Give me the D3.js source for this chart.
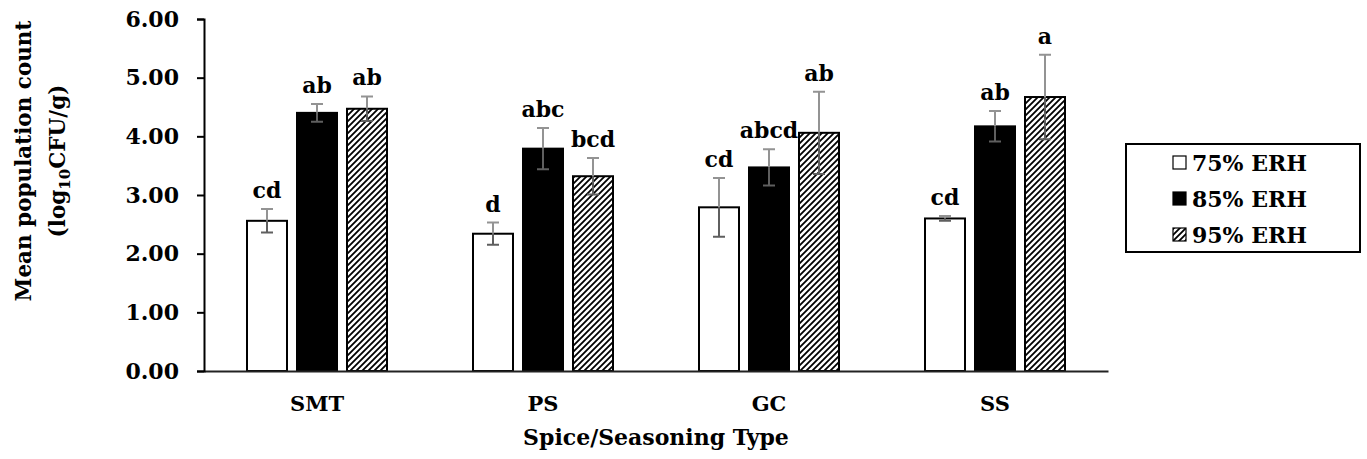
<!DOCTYPE html>
<html>
<head>
<meta charset="utf-8">
<script src="https://cdn.jsdelivr.net/npm/d3@7"></script>
<style>
  body { margin: 0; background: #fff; }
  svg text { font-family: "DejaVu Serif", serif; font-weight: bold; fill: #000; }
</style>
</head>
<body>
<div id="chart_area"></div>
<script>
// data
var categories = ["SMT", "PS", "GC", "SS"];
var seriesNames = ["75% ERH", "85% ERH", "95% ERH"];
var erh75 = [2.56, 2.34, 2.79, 2.60];
var erh85 = [4.40, 3.79, 3.47, 4.17];
var erh95 = [4.47, 3.32, 4.06, 4.67];
var err75 = [0.20, 0.19, 0.50, 0.04];
var err85 = [0.15, 0.35, 0.31, 0.26];
var err95 = [0.21, 0.31, 0.70, 0.72];
var letters75 = ["cd", "d", "cd", "cd"];
var letters85 = ["ab", "abc", "abcd", "ab"];
var letters95 = ["ab", "bcd", "ab", "a"];
var yTicks = [0, 1, 2, 3, 4, 5, 6];

var fills = ["#fff", "#000", "url(#hatch)"];
var values = [erh75, erh85, erh95];
var errors = [err75, err85, err95];
var letters = [letters75, letters85, letters95];

var W = 1367, H = 459;
var margin = {left: 204, top: 19, right: 259, bottom: 88};
var width = W - margin.left - margin.right,
    height = H - margin.top - margin.bottom;

var svg = d3.select("#chart_area")
    .append("svg")
        .attr("width", W)
        .attr("height", H);

// hatch pattern (upward diagonal)
var pat = svg.append("defs").append("pattern")
    .attr("id", "hatch")
    .attr("patternUnits", "userSpaceOnUse")
    .attr("width", 6)
    .attr("height", 6);
pat.append("rect").attr("width", 6).attr("height", 6).attr("fill", "#fff");
pat.append("path")
    .attr("d", "M0,6 L6,0 M-1.5,1.5 L1.5,-1.5 M4.5,7.5 L7.5,4.5")
    .attr("stroke", "#000")
    .attr("stroke-width", 1.8);

var g = svg.append("g")
    .attr("transform", "translate(" + margin.left + "," + margin.top + ")");

var rows = [];
categories.forEach(function(c, i){
    seriesNames.forEach(function(s, j){
        rows.push({cat: c, s: j, v: values[j][i], e: errors[j][i], lab: letters[j][i]});
    });
});

//scales
var x0 = d3.scaleBand().domain(categories).range([0, width]);
var x1 = d3.scaleBand().domain(d3.range(3)).range([0, x0.bandwidth()])
    .paddingInner(0.2).paddingOuter(0.86);
var y = d3.scaleLinear().domain([0, 6]).range([height, 0]);

//bars
g.selectAll("rect.bar")
    .data(rows)
    .enter().append("rect")
        .attr("class", "bar")
        .attr("x", function(d){ return x0(d.cat) + x1(d.s); })
        .attr("y", function(d){ return y(d.v); })
        .attr("width", x1.bandwidth())
        .attr("height", function(d){ return height - y(d.v); })
        .attr("fill", function(d){ return fills[d.s]; })
        .attr("stroke", "#000")
        .attr("stroke-width", 2);

//error bars
var eb = g.selectAll("g.err")
    .data(rows)
    .enter().append("g")
        .attr("class", "err")
        .attr("transform", function(d){
            return "translate(" + (x0(d.cat) + x1(d.s) + x1.bandwidth() / 2) + ",0)";
        });
eb.append("path")
    .attr("d", function(d){
        return "M0," + y(d.v) + "V" + y(d.v + d.e) + "M-6," + y(d.v + d.e) + "H6";
    })
    .attr("stroke", "#939393")
    .attr("stroke-width", 2)
    .attr("fill", "none");
eb.append("path")
    .attr("d", function(d){
        return "M0," + y(d.v) + "V" + y(d.v - d.e) + "M-6," + y(d.v - d.e) + "H6";
    })
    .attr("stroke", "#5f5f5f")
    .attr("stroke-width", 2)
    .attr("fill", "none");

//significance letters
g.selectAll("text.lab")
    .data(rows)
    .enter().append("text")
        .attr("class", "lab")
        .attr("x", function(d){ return x0(d.cat) + x1(d.s) + x1.bandwidth() / 2; })
        .attr("y", function(d){ return y(d.v + d.e) - 11; })
        .attr("text-anchor", "middle")
        .attr("font-size", "22px")
        .text(function(d){ return d.lab; });

//x axis
var xAxis = g.append("g")
    .attr("transform", "translate(0," + height + ")")
    .call(d3.axisBottom(x0).tickSize(0).tickPadding(25));
xAxis.select(".domain").attr("stroke", "#222").attr("stroke-width", 2);
xAxis.selectAll("text")
    .attr("font-size", "21px")
    .attr("font-family", "DejaVu Serif")
    .attr("font-weight", "bold");

//y axis
var yAxis = g.append("g")
    .call(d3.axisLeft(y).tickValues(yTicks).tickSize(7).tickSizeOuter(7).tickPadding(18)
        .tickFormat(d3.format(".2f")));
yAxis.select(".domain").attr("stroke", "#000").attr("stroke-width", 2);
yAxis.selectAll(".tick line").attr("stroke", "#000").attr("stroke-width", 2);
yAxis.selectAll("text")
    .attr("font-size", "22px")
    .attr("font-family", "DejaVu Serif")
    .attr("font-weight", "bold");

//x label
svg.append("text")
    .attr("x", margin.left + width / 2)
    .attr("y", 445)
    .attr("text-anchor", "middle")
    .attr("font-size", "22px")
    .text("Spice/Seasoning Type");

//y label
var yl = svg.append("text")
    .attr("transform", "translate(31," + 161 + ") rotate(-90)")
    .attr("text-anchor", "middle")
    .attr("font-size", "21.5px");
yl.append("tspan").attr("x", 0).attr("y", 0).text("Mean population count");
yl.append("tspan").attr("x", 0).attr("y", 34).text("(log");
yl.append("tspan").attr("dy", 5).attr("font-size", "15px").text("10");
yl.append("tspan").attr("dy", -5).text("CFU/g)");

//legend
var lg = svg.append("g").attr("transform", "translate(1126,144)");
lg.append("rect")
    .attr("width", 234).attr("height", 108)
    .attr("fill", "#fff").attr("stroke", "#000").attr("stroke-width", 2);
var li = lg.selectAll("g.li")
    .data(seriesNames)
    .enter().append("g")
        .attr("class", "li")
        .attr("transform", function(d, i){ return "translate(47," + (19 + i * 36) + ")"; });
li.append("rect")
    .attr("x", 0).attr("y", -7).attr("width", 13).attr("height", 13)
    .attr("fill", function(d, i){ return fills[i]; })
    .attr("stroke", "#000").attr("stroke-width", 1.2);
li.append("text")
    .attr("x", 19).attr("y", 8)
    .attr("font-size", "22px")
    .text(function(d){ return d; });
</script>
</body>
</html>
